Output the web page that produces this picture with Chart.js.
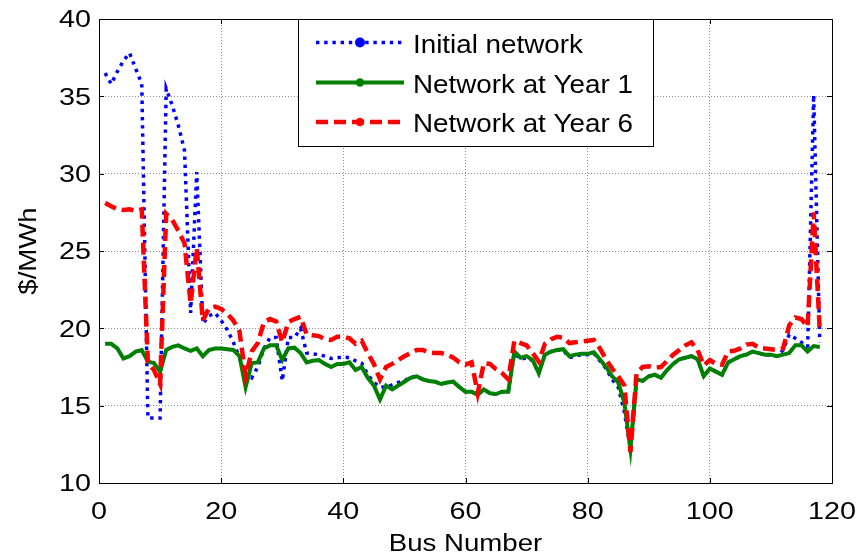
<!DOCTYPE html>
<html>
<head>
<meta charset="utf-8">
<script src="https://cdn.jsdelivr.net/npm/chart.js@4.4.1/dist/chart.umd.min.js"></script>
<style>
  html, body { margin: 0; padding: 0; background: #ffffff; }
  #wrap { width: 860px; height: 555px; }
</style>
</head>
<body>
<div id="wrap"><canvas id="lmp" width="860" height="555"></canvas></div>
<script>
// Bus numbers of the 118-bus test system
const buses = [
  1, 2, 3, 4, 5, 6, 7, 8, 9, 10, 11, 12, 13, 14, 15, 16, 17, 18, 19, 20,
  21, 22, 23, 24, 25, 26, 27, 28, 29, 30, 31, 32, 33, 34, 35, 36, 37, 38, 39, 40,
  41, 42, 43, 44, 45, 46, 47, 48, 49, 50, 51, 52, 53, 54, 55, 56, 57, 58, 59, 60,
  61, 62, 63, 64, 65, 66, 67, 68, 69, 70, 71, 72, 73, 74, 75, 76, 77, 78, 79, 80,
  81, 82, 83, 84, 85, 86, 87, 88, 89, 90, 91, 92, 93, 94, 95, 96, 97, 98, 99, 100,
  101, 102, 103, 104, 105, 106, 107, 108, 109, 110, 111, 112, 113, 114, 115, 116, 117, 118
];

// Nodal prices ($/MWh) per bus
const initialNetwork = [
  36.5, 35.8, 36.6, 37.3, 37.8, 36.8, 35.8, 14.2, 14.2, 14.2,
  35.5, 34.4, 33.1, 31.5, 21.0, 30.1, 20.3, 20.8, 21.0, 20.5,
  19.9, 19.1, 18.1, 17.0, 16.8, 17.5, 18.7, 19.4, 19.4, 16.6,
  19.4, 19.4, 20.0, 18.4, 18.35, 18.3, 18.2, 18.05, 18.1, 18.15,
  18.1, 17.9, 17.75, 17.0, 16.5, 16.2, 16.2, 16.35, 16.5, 16.6,
  16.85, 16.9, 16.7, 16.6, 16.55, 16.4, 16.5, 16.55, 16.2, 15.9,
  15.9, 15.7, 16.05, 15.8, 15.75, 15.9, 15.9, 18.4, 18.0, 18.1,
  17.9, 17.1, 18.3, 18.5, 18.6, 18.6, 18.1, 18.2, 18.3, 18.3,
  18.4, 17.9, 17.4, 16.7, 16.2, 14.6, 12.2, 16.7, 16.6, 16.9,
  17.0, 16.8, 17.3, 17.7, 18.0, 18.1, 18.2, 18.0, 16.9, 17.4,
  17.2, 17.0, 17.8, 18.0, 18.2, 18.3, 18.5, 18.4, 18.3, 18.3,
  18.2, 18.6, 19.6, 19.35, 19.1, 18.5, 35.1, 19.1
];

const networkYear1 = [
  19.0, 19.0, 18.7, 18.05, 18.2, 18.5, 18.6, 17.85, 17.75, 17.2,
  18.6, 18.8, 18.9, 18.7, 18.55, 18.7, 18.2, 18.6, 18.7, 18.7,
  18.65, 18.6, 18.2, 16.2, 17.75, 17.8, 18.7, 18.9, 18.9, 17.95,
  18.7, 18.75, 18.4, 17.8, 17.9, 17.95, 17.7, 17.5, 17.7, 17.7,
  17.8, 17.3, 17.5, 16.8, 16.3, 15.4, 16.3, 16.05, 16.3, 16.55,
  16.8, 16.9, 16.7, 16.6, 16.55, 16.4, 16.5, 16.55, 16.2, 15.9,
  15.9, 15.7, 16.05, 15.8, 15.75, 15.9, 15.9, 18.5, 18.1, 18.2,
  17.95, 17.1, 18.3, 18.5, 18.6, 18.65, 18.2, 18.3, 18.35, 18.35,
  18.45, 18.0, 17.5, 16.9, 16.5, 15.2, 12.2, 16.7, 16.6, 16.9,
  17.0, 16.8, 17.3, 17.7, 18.0, 18.1, 18.2, 18.0, 16.9, 17.4,
  17.2, 17.0, 17.8, 18.0, 18.2, 18.3, 18.5, 18.4, 18.3, 18.3,
  18.2, 18.3, 18.4, 18.9, 18.9, 18.5, 18.85, 18.8
];

const networkYear6 = [
  28.1, 27.9, 27.7, 27.65, 27.7, 27.6, 27.7, 17.8, 17.3, 16.4,
  27.4, 27.0, 26.3, 25.5, 21.6, 25.2, 20.5, 21.3, 21.4, 21.25,
  20.95, 20.5, 19.8, 16.9, 18.5, 19.05, 20.4, 20.6, 20.45, 19.1,
  20.4, 20.6, 20.75, 19.6, 19.55, 19.5, 19.3, 19.25, 19.45, 19.45,
  19.35, 19.0, 19.2, 18.4, 17.7, 16.7, 17.5, 17.7, 17.95, 18.2,
  18.4, 18.6, 18.6, 18.45, 18.4, 18.4, 18.3, 18.1, 17.8, 17.65,
  17.8, 15.8, 17.75, 17.7, 17.35, 17.1, 16.7, 19.2, 19.05, 18.9,
  18.4, 17.85, 19.0, 19.3, 19.45, 19.4, 19.05, 19.1, 19.15, 19.2,
  19.25, 18.7, 18.0, 17.4, 16.9, 16.3, 12.0, 17.1, 17.5, 17.55,
  17.45, 17.5, 17.9, 18.3, 18.6, 18.9, 19.1, 18.6, 17.6, 17.95,
  17.7, 17.65, 18.5, 18.55, 18.7, 18.95, 19.0, 18.75, 18.7, 18.65,
  18.6, 18.7, 20.2, 20.7, 20.6, 20.1, 27.5, 19.8
];

// Axis tick values
const xTicks = [0, 20, 40, 60, 80, 100, 120];
const yTicks = [10, 15, 20, 25, 30, 35, 40];

const seriesNames = ['Initial network', 'Network at Year 1', 'Network at Year 6'];

const FONT = '"Liberation Sans", Arial, Helvetica, sans-serif';

function toPoints(values) {
  return buses.map((b, i) => ({ x: b, y: values[i] }));
}

// Draws text widened horizontally by factor sx
function wideText(ctx, text, x, y, size, sx, align) {
  ctx.save();
  ctx.font = size + 'px ' + FONT;
  ctx.textAlign = 'left';
  ctx.textBaseline = 'alphabetic';
  const w = ctx.measureText(text).width * sx;
  let x0 = x;
  if (align === 'center') x0 = x - w / 2;
  else if (align === 'right') x0 = x - w;
  ctx.translate(x0, y);
  ctx.scale(sx, 1);
  ctx.fillStyle = '#000000';
  ctx.fillText(text, 0, 0);
  ctx.restore();
}

// Frame, inner tick marks, tick labels, axis titles and legend box
const framePlugin = {
  id: 'matlabFrame',
  afterDraw(chart) {
    const ctx = chart.ctx;
    const a = chart.chartArea;
    const xs = chart.scales.x;
    const ys = chart.scales.y;

    ctx.save();
    ctx.strokeStyle = '#000000';
    ctx.lineWidth = 1;
    ctx.setLineDash([]);
    ctx.strokeRect(Math.round(a.left) + 0.5, Math.round(a.top) + 0.5,
                   Math.round(a.right - a.left), Math.round(a.bottom - a.top));

    const tl = 5;
    ctx.beginPath();
    xTicks.forEach(v => {
      const px = Math.round(xs.getPixelForValue(v)) + 0.5;
      ctx.moveTo(px, a.bottom); ctx.lineTo(px, a.bottom - tl);
      ctx.moveTo(px, a.top); ctx.lineTo(px, a.top + tl);
    });
    yTicks.forEach(v => {
      const py = Math.round(ys.getPixelForValue(v)) + 0.5;
      ctx.moveTo(a.left, py); ctx.lineTo(a.left + tl, py);
      ctx.moveTo(a.right, py); ctx.lineTo(a.right - tl, py);
    });
    ctx.stroke();
    ctx.restore();

    const tickSize = 23;
    xTicks.forEach(v => {
      wideText(ctx, String(v), xs.getPixelForValue(v), a.bottom + 36, tickSize, 1.25, 'center');
    });
    yTicks.forEach(v => {
      wideText(ctx, String(v), a.left - 8, ys.getPixelForValue(v) + 8.2, tickSize, 1.25, 'right');
    });

    // axis titles
    wideText(ctx, 'Bus Number', (a.left + a.right) / 2, 551, 23, 1.2, 'center');
    ctx.save();
    ctx.translate(36, (a.top + a.bottom) / 2);
    ctx.rotate(-Math.PI / 2);
    wideText(ctx, '$/MWh', 0, 0, 23, 1.2, 'center');
    ctx.restore();

    // legend
    const box = { x: 298.5, y: 19.5, w: 355, h: 127 };
    ctx.save();
    ctx.fillStyle = '#ffffff';
    ctx.fillRect(box.x, box.y, box.w, box.h);
    ctx.strokeStyle = '#000000';
    ctx.lineWidth = 1;
    ctx.strokeRect(box.x, box.y, box.w, box.h);
    ctx.restore();

    const rows = [42.5, 82.5, 122];
    chart.data.datasets.forEach((ds, i) => {
      const y = rows[i];
      ctx.save();
      ctx.strokeStyle = ds.borderColor;
      ctx.lineWidth = ds.borderWidth;
      ctx.setLineDash(ds.borderDash || []);
      ctx.beginPath();
      ctx.moveTo(316, y);
      ctx.lineTo(404, y);
      ctx.stroke();
      ctx.setLineDash([]);
      ctx.fillStyle = ds.borderColor;
      ctx.beginPath();
      ctx.arc(360, y, i === 0 ? 5 : 4.2, 0, Math.PI * 2);
      ctx.fill();
      ctx.restore();
      wideText(ctx, ds.label, 413, y + 10, 25.5, 1.09, 'left');
    });
  }
};

const ctx = document.getElementById('lmp').getContext('2d');
new Chart(ctx, {
  type: 'line',
  data: {
    datasets: [
      {
        label: seriesNames[0],
        data: toPoints(initialNetwork),
        borderColor: '#0000ff',
        borderWidth: 3.5,
        borderDash: [3.4, 4.8],
        pointRadius: 0,
        tension: 0,
        fill: false,
        order: 3
      },
      {
        label: seriesNames[1],
        data: toPoints(networkYear1),
        borderColor: '#008000',
        borderWidth: 4,
        pointRadius: 0,
        tension: 0,
        fill: false,
        order: 2
      },
      {
        label: seriesNames[2],
        data: toPoints(networkYear6),
        borderColor: '#ff0000',
        borderWidth: 4.5,
        borderDash: [12, 6],
        pointRadius: 0,
        tension: 0,
        fill: false,
        order: 1
      }
    ]
  },
  options: {
    responsive: false,
    animation: false,
    devicePixelRatio: 1,
    layout: { padding: { left: 99, right: 28, top: 19, bottom: 72 } },
    plugins: {
      legend: { display: false },
      tooltip: { enabled: false }
    },
    scales: {
      x: {
        type: 'linear',
        min: 0,
        max: 120,
        afterBuildTicks(scale) { scale.ticks = xTicks.map(v => ({ value: v })); },
        afterFit(scale) { scale.height = 0; },
        ticks: { display: false },
        grid: { color: '#8a8a8a', lineWidth: 1, drawTicks: false },
        border: { display: false, dash: [1, 2] }
      },
      y: {
        type: 'linear',
        min: 10,
        max: 40,
        afterBuildTicks(scale) { scale.ticks = yTicks.map(v => ({ value: v })); },
        afterFit(scale) { scale.width = 0; },
        ticks: { display: false },
        grid: { color: '#8a8a8a', lineWidth: 1, drawTicks: false },
        border: { display: false, dash: [1, 2] }
      }
    }
  },
  plugins: [framePlugin]
});
</script>
</body>
</html>
